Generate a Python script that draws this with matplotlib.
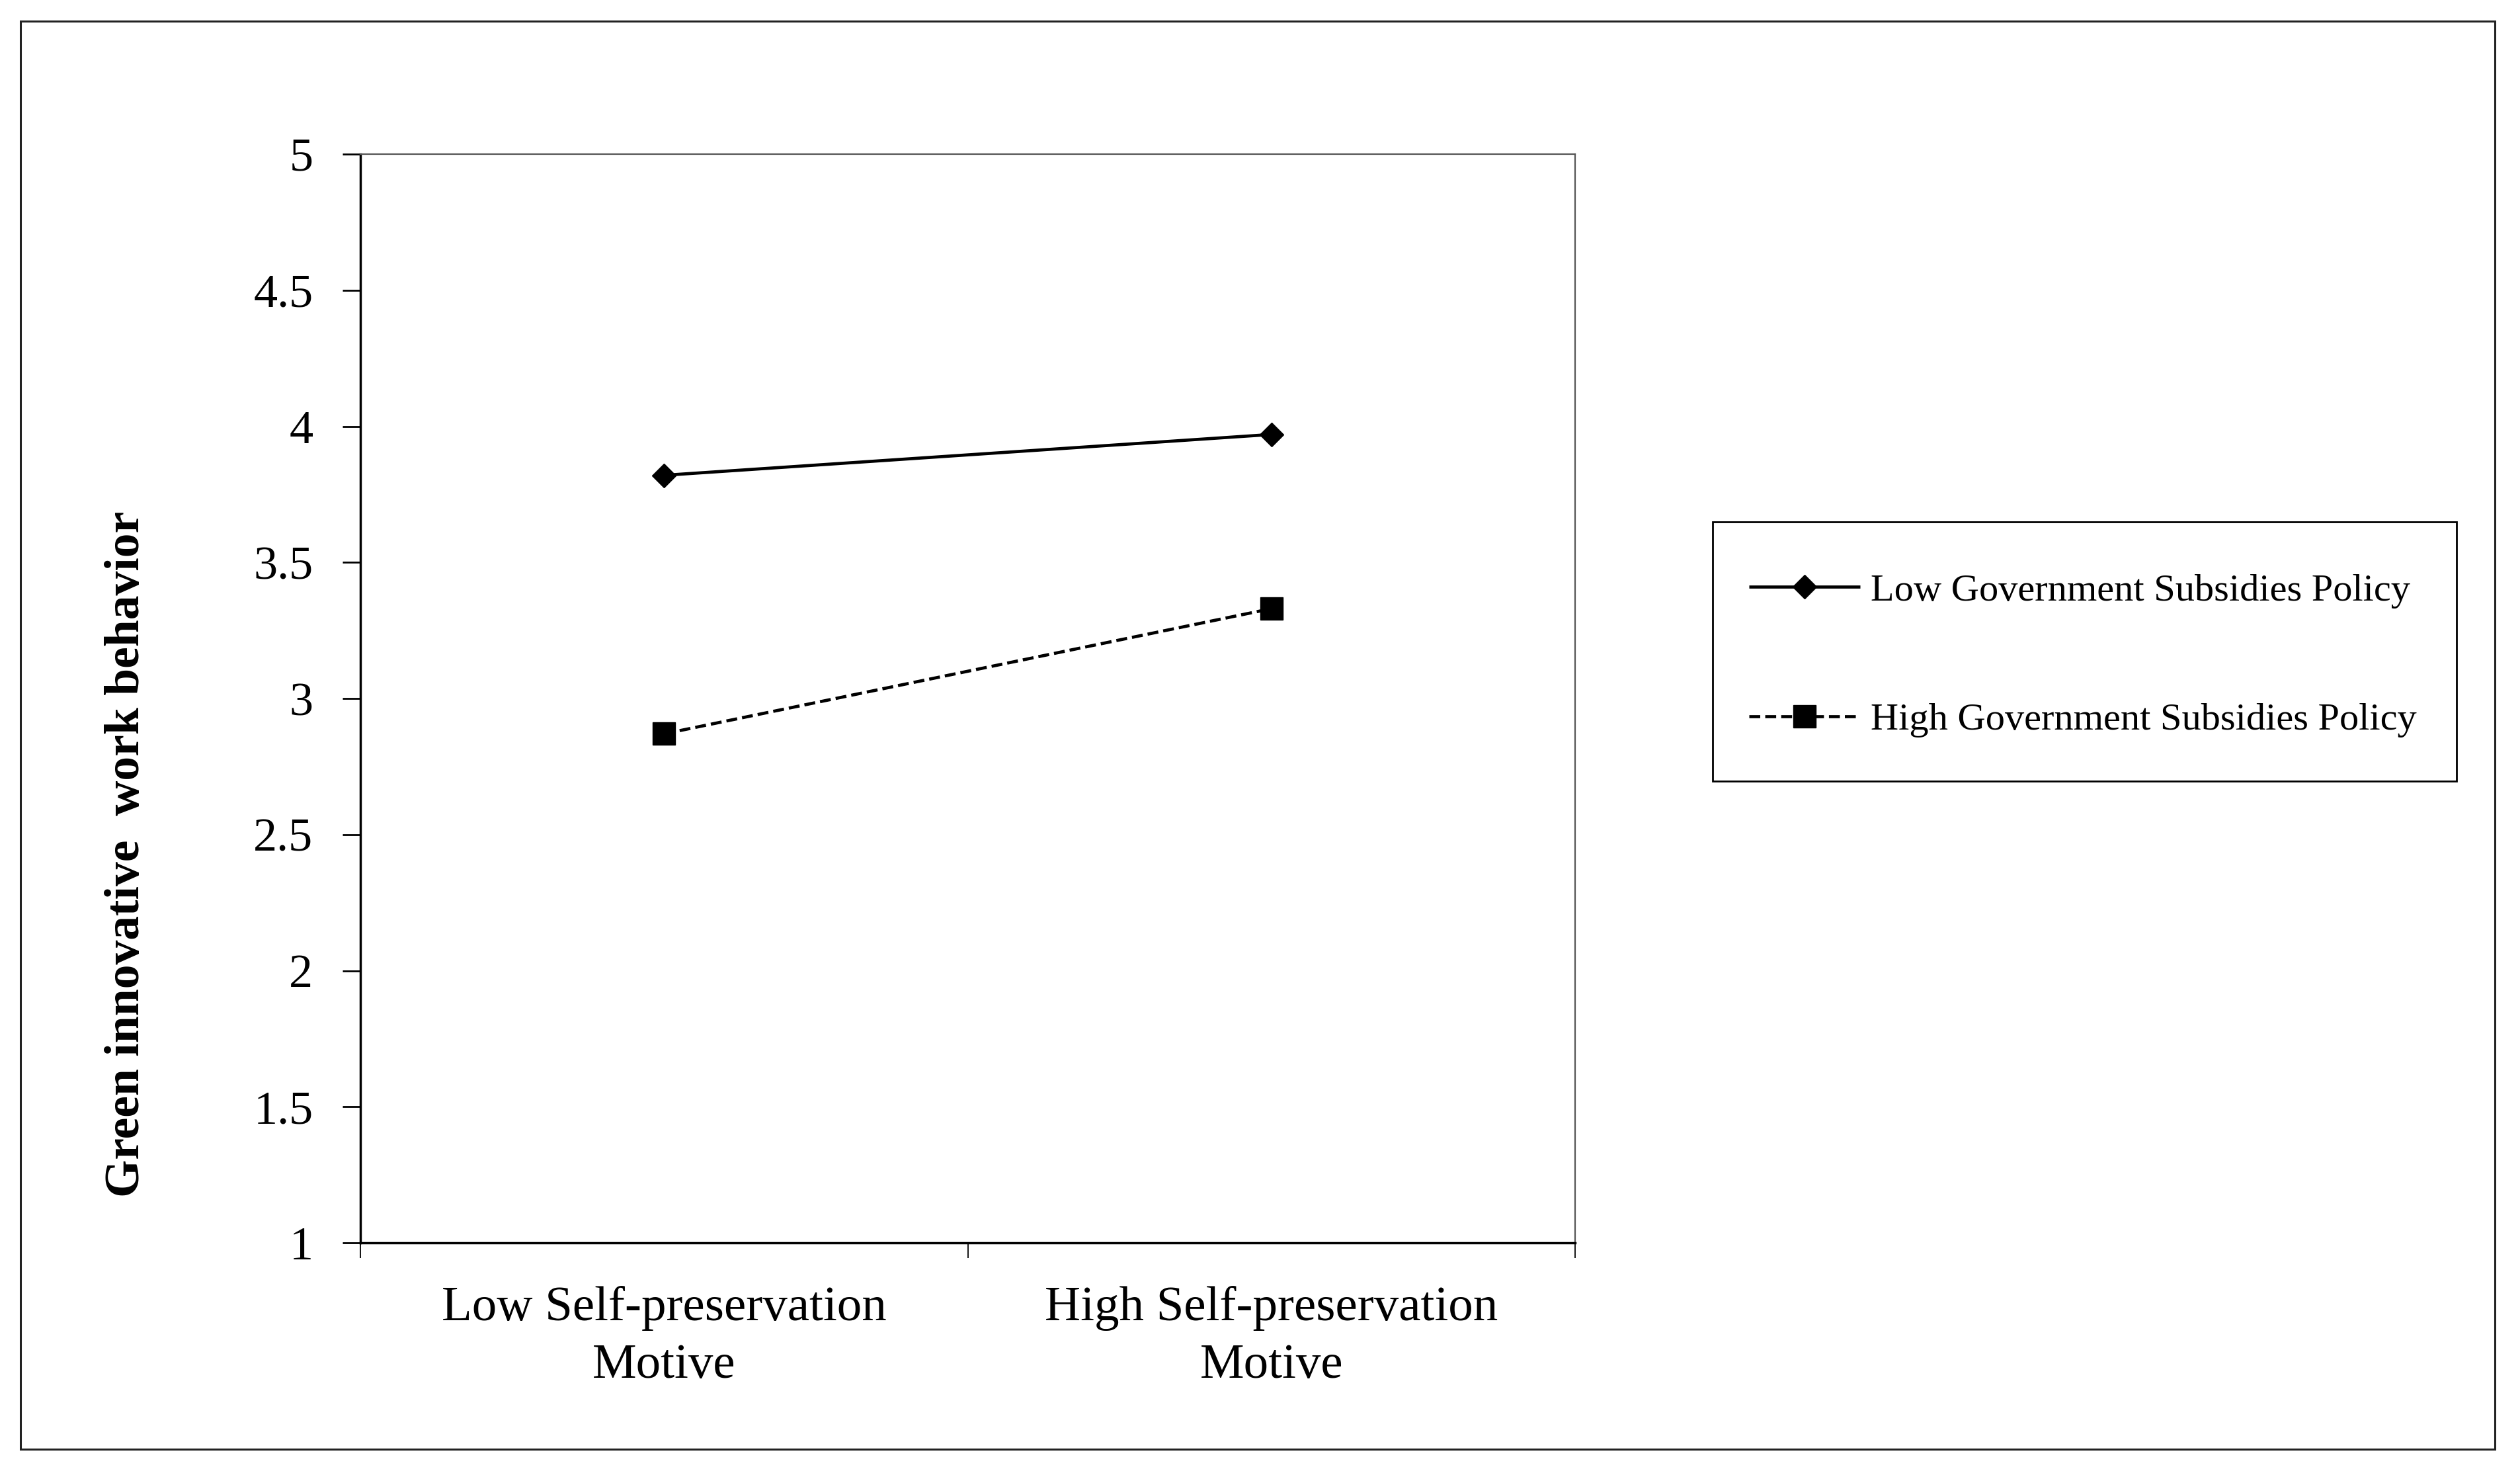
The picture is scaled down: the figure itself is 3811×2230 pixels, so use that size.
import numpy as np
import matplotlib
matplotlib.use('Agg')
import matplotlib.pyplot as plt
from matplotlib.patches import Rectangle

# ---- data ----
categories = ["Low Self-preservation\nMotive", "High Self-preservation\nMotive"]
series_names = ["Low Government Subsidies Policy", "High Government Subsidies Policy"]
low_subsidies = [3.82, 3.97]
high_subsidies = [2.87, 3.33]
y_ticks = [1, 1.5, 2, 2.5, 3, 3.5, 4, 4.5, 5]
y_label = "Green innovative  work behavior"

plt.rcParams['font.family'] = ['Liberation Serif', 'DejaVu Serif']

W, H = 3811, 2230
fig = plt.figure(figsize=(W / 100, H / 100), dpi=100)
fig.patch.set_facecolor('white')

ax = fig.add_axes([545 / W, 1 - 1879 / H, (2382 - 545) / W, (1879 - 233) / H])

x = np.arange(len(categories)) + 0.5
ax.plot(x, low_subsidies, color='black', lw=3.4, marker='D', ms=18, mew=1,
        mfc='black', mec='black', label=series_names[0], solid_capstyle='butt')
ax.plot(x, high_subsidies, color='black', lw=3.4, ls=(0, (3.5, 1.6)), marker='s', ms=24.5,
        mew=1, mfc='black', mec='black', label=series_names[1])

ax.set_xlim(0, 2)
ax.set_ylim(1, 5)

# x axis: boundary ticks, category labels centred
ax.set_xticks([0, 1, 2])
ax.set_xticklabels([])
ax.set_xticks(x, minor=True)
ax.set_xticklabels(categories, minor=True, fontsize=54, linespacing=1.38)
ax.tick_params(axis='x', which='major', direction='out', length=16.5, width=1.3, colors='black')
ax.tick_params(axis='x', which='minor', length=0, pad=47)

# y axis
ax.set_yticks(y_ticks)
ax.set_yticklabels([f"{v:g}" for v in y_ticks])
ax.tick_params(axis='y', direction='out', length=19.5, width=2, pad=32, labelsize=52)

for side in ['left', 'bottom']:
    ax.spines[side].set_linewidth(2.5)
    ax.spines[side].set_color('black')
for side in ['top', 'right']:
    ax.spines[side].set_linewidth(1.6)
    ax.spines[side].set_color('#555555')

ax.set_ylabel(y_label, fontsize=53, fontweight='bold')
ax.yaxis.set_label_coords((192 - 545) / (2382 - 545), 1 - (1291 - 233) / (1879 - 233))
ax.yaxis.label.set_verticalalignment('center')
ax.yaxis.label.set_rotation_mode('default')

# legend (frame drawn separately)
leg = ax.legend(loc='center left', bbox_to_anchor=(2645 / W, 1 - 991 / H),
                bbox_transform=fig.transFigure, frameon=False, fontsize=42,
                handlelength=2.88, handletextpad=0.27, borderpad=0, borderaxespad=0,
                labelspacing=2.44, numpoints=1)

fig.add_artist(Rectangle((2590 / W, 1 - 1181 / H), (3715 - 2590) / W, (1181 - 789) / H,
                         transform=fig.transFigure, fill=False, ec='black', lw=2))

# outer frame
fig.add_artist(Rectangle((31 / W, 1 - 2191 / H), (3773 - 31) / W, (2191 - 32) / H,
                         transform=fig.transFigure, fill=False, ec='#222222', lw=2.2))

fig.savefig('out.png', dpi=100, facecolor='white')
